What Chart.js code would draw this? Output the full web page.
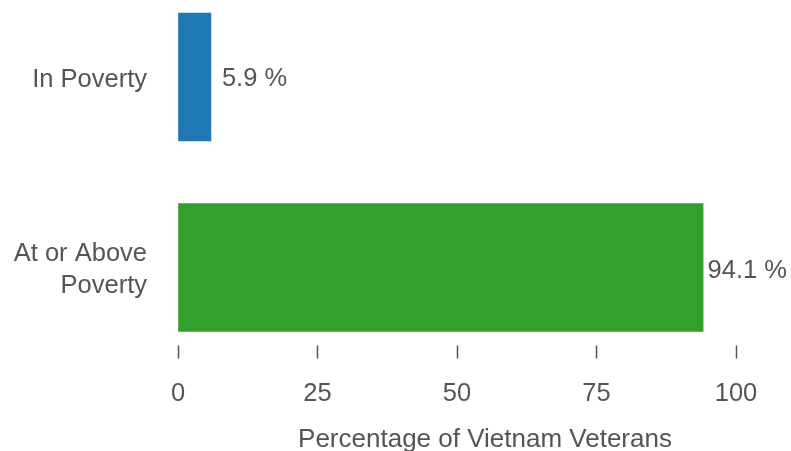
<!DOCTYPE html>
<html>
<head>
<meta charset="utf-8">
<script src="https://cdn.jsdelivr.net/npm/chart.js@4"></script>
<style>
  html, body { margin: 0; padding: 0; background: #fff; }
  #wrap { width: 791px; height: 451px; }
</style>
</head>
<body>
<div id="wrap"><canvas id="barChart" width="791" height="451"></canvas></div>
<script>
// du lieu
const categories = [['In Poverty'], ['At or Above', 'Poverty']];
const percentValues = [5.9, 94.1];
const barColors = ['#1f78b4', '#33a02c'];
const xTicks = [0, 25, 50, 75, 100];
const axisTitle = 'Percentage of Vietnam Veterans';

const textColor = '#555555';
const fontFamily = '"Liberation Sans", Arial, Helvetica, sans-serif';
const fontSize = 25.5;

// ve nhan gia tri ben phai moi cot + tieu de truc x
const valueLabels = {
    id: 'valueLabels',
    afterDatasetsDraw(chart) {
        const ctx = chart.ctx;
        const meta = chart.getDatasetMeta(0);
        ctx.save();
        ctx.font = `${fontSize}px ${fontFamily}`;
        ctx.fillStyle = textColor;
        ctx.textBaseline = 'middle';
        ctx.textAlign = 'left';
        meta.data.forEach((bar, i) => {
            const text = percentValues[i].toFixed(1) + ' %';
            const w = ctx.measureText(text).width;
            const x = Math.min(bar.x + 11, chart.width - 4 - w);
            ctx.fillText(text, x, bar.y + 1.5 + i * 1.5);
        });

        // tieu de truc x (lech phai so voi vung ve)
        ctx.font = `26px ${fontFamily}`;
        ctx.textAlign = 'center';
        ctx.fillText(axisTitle, 485, 439.5);
        ctx.restore();
    }
};

const ctx = document.getElementById('barChart').getContext('2d');

const barChart = new Chart(ctx, {
    type: 'bar',
    data: {
        labels: categories,
        datasets: [{
            data: percentValues,
            backgroundColor: barColors,
            borderWidth: 0,
            barThickness: 128,
            clip: false
        }]
    },
    options: {
        indexAxis: 'y',
        responsive: false,
        animation: false,
        layout: { padding: { top: 77, right: 55, left: 0, bottom: 0 } },
        plugins: {
            legend: { display: false },
            tooltip: { enabled: false }
        },
        scales: {
            x: {
                min: 0,
                max: 100,
                afterBuildTicks: (scale) => {
                    scale.ticks = xTicks.map(v => ({ value: v }));
                },
                afterFit: (scale) => {
                    scale.height = 183.5;
                },
                border: { display: false },
                grid: {
                    drawOnChartArea: false,
                    drawTicks: true,
                    tickLength: 91,
                    tickColor: '#555555',
                    tickWidth: 1.5,
                    tickBorderDash: [0, 77.5, 13.5, 500]
                },
                ticks: {
                    color: textColor,
                    font: { family: fontFamily, size: fontSize },
                    padding: 20,
                    maxRotation: 0
                },
                title: { display: false }
            },
            y: {
                offset: false,
                afterFit: (scale) => {
                    scale.width = 178;
                },
                border: { display: false },
                grid: { display: false, drawTicks: false },
                ticks: {
                    color: textColor,
                    font: { family: fontFamily, size: fontSize, lineHeight: 1.25 },
                    padding: 31,
                    labelOffset: 2.5
                }
            }
        }
    },
    plugins: [valueLabels]
});
</script>
</body>
</html>
